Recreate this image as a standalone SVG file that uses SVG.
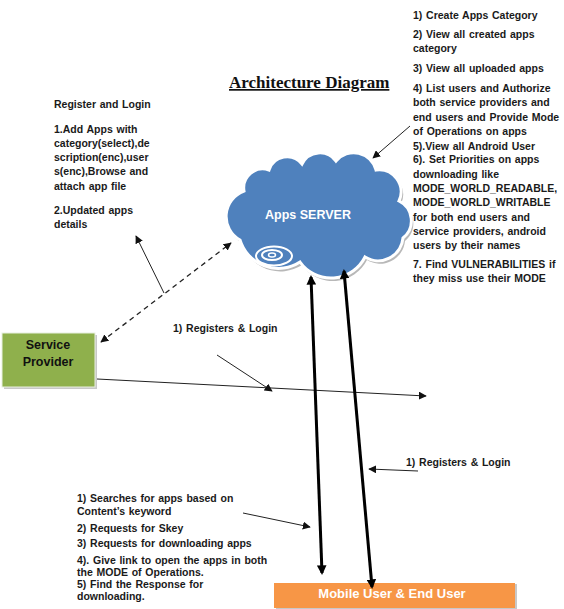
<svg xmlns="http://www.w3.org/2000/svg" width="564" height="609" viewBox="0 0 564 609">
<style>
.t{font-family:"Liberation Sans",Arial,sans-serif;font-size:10.5px;font-weight:bold;fill:#1a1a1a;word-spacing:0.8px}
.thin{stroke:#222;stroke-width:1;fill:none}
.thick{stroke:#000;stroke-width:3;fill:none}
</style>
<defs>
<marker id="ah" viewBox="0 0 10 10" refX="9" refY="5" markerWidth="8" markerHeight="8" markerUnits="userSpaceOnUse" orient="auto-start-reverse">
<path d="M0,0 L10,5 L0,10 z" fill="#111"/>
</marker>
<marker id="ahb" viewBox="0 0 10 10" refX="8" refY="5" markerWidth="3.2" markerHeight="3.2" orient="auto-start-reverse">
<path d="M0,0 L10,5 L0,10 z" fill="#000"/>
</marker>
</defs>
<rect width="564" height="609" fill="#fff"/>

<g id="title">
<text x="229" y="88" font-family="Liberation Serif,Times New Roman,serif" font-size="17" font-weight="bold" text-decoration="underline" fill="#111">Architecture Diagram</text>
</g>

<g id="admin-notes">
<text class="t" x="413" y="19">1)  Create  Apps Category</text>
<text class="t" x="413" y="38">2)  View all created apps</text>
<text class="t" x="413" y="52">category</text>
<text class="t" x="413" y="72">3) View all uploaded apps</text>
<text class="t" x="413" y="92">4) List users and Authorize</text>
<text class="t" x="413" y="106">both service providers and</text>
<text class="t" x="413" y="121">end users and Provide Mode</text>
<text class="t" x="413" y="135">of Operations on apps</text>
<text class="t" x="413" y="150">5).View all Android User</text>
<text class="t" x="413" y="163">6). Set Priorities on apps</text>
<text class="t" x="413" y="178">downloading like</text>
<text class="t" x="413" y="192">MODE_WORLD_READABLE,</text>
<text class="t" x="413" y="206">MODE_WORLD_WRITABLE</text>
<text class="t" x="413" y="221">for both end users and</text>
<text class="t" x="413" y="235">service providers, android</text>
<text class="t" x="413" y="249">users by their names</text>
<text class="t" x="413" y="268">7. Find VULNERABILITIES  if</text>
<text class="t" x="413" y="282">they miss use their MODE</text>
</g>

<g id="provider-notes">
<text class="t" x="54" y="108">Register  and  Login</text>
<text class="t" x="54" y="133">1.Add  Apps  with</text>
<text class="t" x="54" y="147">category(select),de</text>
<text class="t" x="54" y="161">scription(enc),user</text>
<text class="t" x="54" y="175">s(enc),Browse  and</text>
<text class="t" x="54" y="190">attach  app file</text>
<text class="t" x="54" y="214">2.Updated  apps</text>
<text class="t" x="54" y="228">details</text>
</g>

<g id="user-notes">
<text class="t" x="77" y="502">1) Searches  for apps based on</text>
<text class="t" x="77" y="515">Content’s  keyword</text>
<text class="t" x="77" y="532">2) Requests  for  Skey</text>
<text class="t" x="77" y="547">3) Requests  for downloading apps</text>
<text class="t" x="77" y="564">4). Give link to open the apps in both</text>
<text class="t" x="77" y="576">the MODE of Operations.</text>
<text class="t" x="77" y="588">5) Find the Response  for</text>
<text class="t" x="77" y="600">downloading.</text>
</g>

<g id="apps-server">
<path transform="translate(2,3)" fill="#b8b8b8" d="M240,240 A27,27 0 0 1 244,191 A19,19 0 0 1 269,170 A19,19 0 0 1 302,164 A20,20 0 0 1 336,161 A23,23 0 0 1 376,170 A22,22 0 0 1 399,201 A22,22 0 0 1 403,238 A25,25 0 0 1 365,257 A38,38 0 0 1 300,262 A40,40 0 0 1 240,240 Z"/>
<path fill="#4f81bd" stroke="#fff" stroke-width="3" d="M240,240 A27,27 0 0 1 244,191 A19,19 0 0 1 269,170 A19,19 0 0 1 302,164 A20,20 0 0 1 336,161 A23,23 0 0 1 376,170 A22,22 0 0 1 399,201 A22,22 0 0 1 403,238 A25,25 0 0 1 365,257 A38,38 0 0 1 300,262 A40,40 0 0 1 240,240 Z"/>
<ellipse cx="274" cy="256" rx="18" ry="9.5" fill="#4f81bd" stroke="#fff" stroke-width="2"/>
<ellipse cx="272" cy="255" rx="10" ry="5" fill="none" stroke="#fff" stroke-width="2"/>
<ellipse cx="272" cy="255" rx="3.5" ry="2" fill="none" stroke="#fff" stroke-width="1.5"/>
<text x="308" y="219" text-anchor="middle" font-family="Liberation Sans,Arial,sans-serif" font-size="12.5" font-weight="bold" fill="#fff">Apps SERVER</text>
</g>

<g id="service-provider">
<rect x="4" y="335" width="93" height="54" fill="#c8c8c8"/>
<rect x="2" y="333" width="93" height="54" fill="#8fb04c" stroke="#e8efe0" stroke-width="1"/>
<text x="48" y="349" text-anchor="middle" font-family="Liberation Sans,Arial,sans-serif" font-size="12.5" font-weight="bold" fill="#111">Service</text>
<text x="48" y="366" text-anchor="middle" font-family="Liberation Sans,Arial,sans-serif" font-size="12.5" font-weight="bold" fill="#111">Provider</text>
</g>

<g id="mobile-user">
<rect x="276" y="584" width="241" height="25" fill="#c8c8c8"/>
<rect x="274" y="583" width="241" height="25" fill="#f79646"/>
<text x="392" y="598" text-anchor="middle" font-family="Liberation Sans,Arial,sans-serif" font-size="13" font-weight="bold" fill="#fff">Mobile User &amp; End User</text>
</g>

<g id="connectors">
<line class="thin" x1="410" y1="126" x2="373" y2="158" marker-end="url(#ah)"/>
<line stroke="#222" stroke-width="1.3" stroke-dasharray="5,4" x1="101" y1="342" x2="231" y2="243" marker-start="url(#ah)" marker-end="url(#ah)"/>
<line class="thin" x1="164" y1="293" x2="136" y2="236" marker-end="url(#ah)"/>
<line class="thin" x1="97" y1="379" x2="426" y2="396" marker-end="url(#ah)"/>
<line class="thin" x1="217" y1="355" x2="272" y2="391" marker-end="url(#ah)"/>
<line class="thick" x1="311" y1="277" x2="322" y2="573" marker-start="url(#ahb)" marker-end="url(#ahb)"/>
<line class="thick" x1="344" y1="271" x2="372" y2="587" marker-start="url(#ahb)" marker-end="url(#ahb)"/>
<line class="thin" x1="418" y1="471" x2="369" y2="469" marker-end="url(#ah)"/>
<line class="thin" x1="243" y1="513" x2="310" y2="527" marker-end="url(#ah)"/>
</g>
<g id="labels">
<text class="t" x="173" y="332">1) Registers  &amp; Login</text>
<text class="t" x="406" y="466">1) Registers  &amp; Login</text>
</g>
</svg>
